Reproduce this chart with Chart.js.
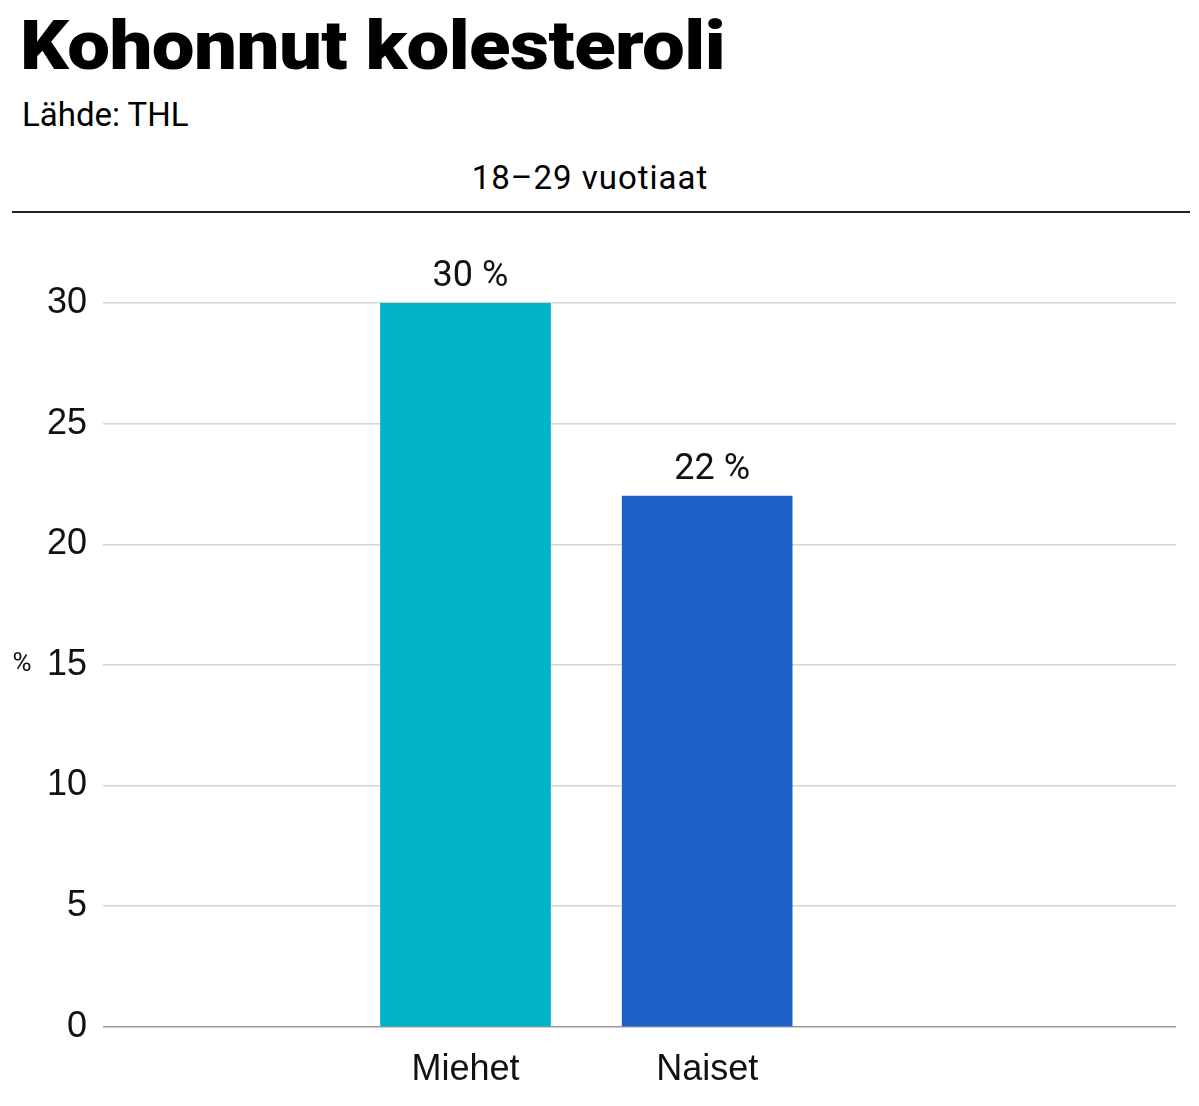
<!DOCTYPE html>
<html><head><meta charset="utf-8">
<script src="https://cdn.jsdelivr.net/npm/chart.js@4"></script>
<style>
body{margin:0;width:1199px;height:1106px;background:#fff;font-family:Roboto,sans-serif;position:relative;overflow:hidden}
#t{position:absolute;left:20px;top:6px;font-size:68px;font-weight:900;letter-spacing:-0.5px;transform:scaleX(1.12);transform-origin:left}
#s{position:absolute;left:22px;top:95px;font-size:33px}
#g{position:absolute;left:0;width:1180px;top:158px;text-align:center;font-size:33px;letter-spacing:1px}
#l{position:absolute;left:12px;width:1178px;top:211px;border-top:2px solid #222}
#c{position:absolute;left:0;top:213px}
</style></head><body>
<div id="t">Kohonnut kolesteroli</div>
<div id="s">Lähde: THL</div>
<div id="g">18–29 vuotiaat</div>
<div id="l"></div>
<div id="c"><canvas id="cv" width="1199" height="893"></canvas></div>
<script>
const categories=['Miehet','Naiset'];
const values=[30,22];
const colors=['#00b3c8','#1c60c8'];
const labelPlugin={id:'lbl',afterDatasetsDraw(ch){const c=ch.ctx;const m=ch.getDatasetMeta(0);c.save();c.font='36px Roboto';c.fillStyle='#111';c.textAlign='center';c.textBaseline='bottom';m.data.forEach((b,i)=>c.fillText(values[i]+' %',b.x+5,b.y-8));
const y=ch.scales.y;c.font='26px Roboto';c.textAlign='center';c.textBaseline='middle';c.fillText('%',22,y.getPixelForValue(15));c.restore();}};
new Chart(document.getElementById('cv'),{type:'bar',
data:{datasets:[{data:categories.map((c,i)=>({x:i,y:values[i]})),backgroundColor:colors,barThickness:170}]},
options:{responsive:false,animation:false,layout:{padding:{top:90,right:23,left:0}},
plugins:{legend:{display:false},tooltip:{enabled:false}},
scales:{x:{type:'linear',offset:false,min:-1.5,max:2.94,grid:{display:false,offset:false},border:{display:false},
 afterBuildTicks(a){a.ticks=[{value:0},{value:1}];},
 ticks:{autoSkip:false,maxRotation:0,color:'#111',font:{size:36},padding:14,callback:v=>categories[v]}},
y:{min:0,max:30,border:{display:false},grid:{color:c=>c.tick.value===0?'#999':'#d6d6d6',lineWidth:1.5,drawTicks:false},
 afterFit(a){a.width=103;},
 ticks:{stepSize:5,color:'#111',font:{size:36},padding:16}}}},
plugins:[labelPlugin]});
</script></body></html>
